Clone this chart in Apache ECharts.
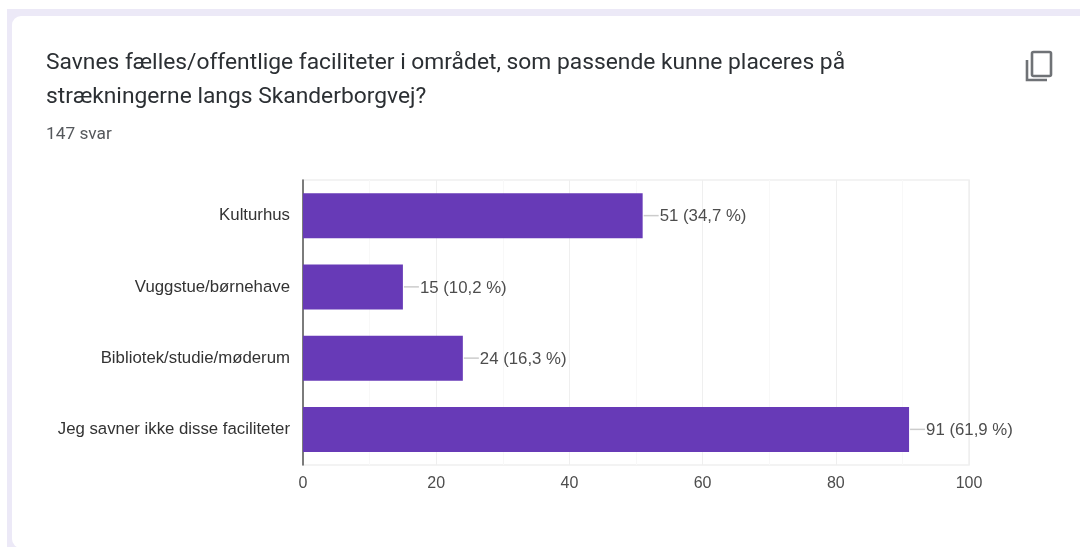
<!DOCTYPE html>
<html lang="da">
<head>
    <meta charset="UTF-8">
    <title>Skanderborgvej</title>
    <script src="https://cdn.jsdelivr.net/npm/echarts@6/dist/echarts.min.js"></script>
    <style>
        html, body { margin: 0; padding: 0; background: #fff; overflow: hidden; }
        #main { width: 1080px; height: 547px; }
    </style>
</head>
<body>
    <div id="main"></div>
    <script type="text/javascript">
        const categories = ['Kulturhus', 'Vuggstue/børnehave', 'Bibliotek/studie/møderum', 'Jeg savner ikke disse faciliteter'];
        const answers = [51, 15, 24, 91];
        const shares = ['34,7', '10,2', '16,3', '61,9'];
        const xTicks = [0, 20, 40, 60, 80, 100];
        const titleLines = ['Savnes fælles/offentlige faciliteter i området, som passende kunne placeres på', 'strækningerne langs Skanderborgvej?'];
        const subtitle = '147 svar';

        const labelFont = '"Liberation Sans", Arial, sans-serif';
        const textGrey = '#4d4d4d';

        let myChart = echarts.init(document.getElementById('main'));
        myChart.setOption({
            animation: false,
            backgroundColor: '#fff',
            // lavender frame and white card behind the chart
            graphic: [
                { type: 'rect', z: -10, shape: { x: 7, y: 9, width: 1080, height: 545 }, style: { fill: '#ece9f7' } },
                { type: 'rect', z: -9, shape: { x: 12, y: 16, width: 1080, height: 532, r: 9 }, style: { fill: '#fff' } },
                // copy icon
                { type: 'rect', shape: { x: 1032, y: 52, width: 19, height: 24, r: 1.5 }, style: { fill: 'none', stroke: '#6f7276', lineWidth: 2.6 } },
                { type: 'polyline', shape: { points: [[1027, 60], [1027, 80], [1047, 80]] }, style: { fill: 'none', stroke: '#6f7276', lineWidth: 2.6 } }
            ],
            title: [
                { text: titleLines.join('\n'), left: 46, top: 46, padding: 0, textStyle: { fontFamily: 'Roboto', fontSize: 22.8, fontWeight: 400, color: '#2b2f33', lineHeight: 34 } },
                { text: subtitle, left: 46, top: 126, padding: 0, textStyle: { fontFamily: 'Roboto', fontSize: 17.3, fontWeight: 400, color: '#55585c' } }
            ],
            grid: { left: 303, top: 180, width: 666, height: 285, show: true, borderColor: '#f0f0f0', borderWidth: 1.5 },
            xAxis: {
                type: 'value', min: 0, max: 100, interval: 20,
                axisLine: { show: false },
                axisTick: { show: false },
                axisLabel: {
                    fontFamily: labelFont, fontSize: 16, color: textGrey, margin: 11,
                    customValues: xTicks
                },
                splitLine: { show: true, lineStyle: { color: '#efefef', width: 1 } },
                minorTick: { show: false, splitNumber: 2 },
                minorSplitLine: { show: true, lineStyle: { color: '#f8f8f8', width: 1 } }
            },
            yAxis: {
                type: 'category', inverse: true, data: categories,
                axisLine: { show: true, lineStyle: { color: '#555', width: 1.5 } },
                axisTick: { show: false },
                axisLabel: { fontFamily: labelFont, fontSize: 16.8, color: '#333', margin: 13 }
            },
            series: [
                {
                    type: 'bar', data: answers, barWidth: 45, z: 3,
                    itemStyle: { color: '#673ab7' }
                },
                {
                    // leader line and count label at the end of every bar
                    type: 'custom', z: 4,
                    data: answers.map((v, i) => [v, i]),
                    encode: { x: 0, y: 1 },
                    renderItem: (params, api) => {
                        const p = api.coord([api.value(0), api.value(1)]);
                        const i = params.dataIndex;
                        return {
                            type: 'group',
                            children: [
                                { type: 'line', shape: { x1: p[0] + 1, y1: p[1], x2: p[0] + 16, y2: p[1] }, style: { stroke: '#ccc', lineWidth: 1.5 } },
                                { type: 'text', x: p[0] + 17, y: p[1] + 1, style: { text: answers[i] + ' (' + shares[i] + ' %)', font: '16.8px ' + labelFont, fill: textGrey, verticalAlign: 'middle', align: 'left' } }
                            ]
                        };
                    }
                }
            ]
        });
    </script>
</body>
</html>
